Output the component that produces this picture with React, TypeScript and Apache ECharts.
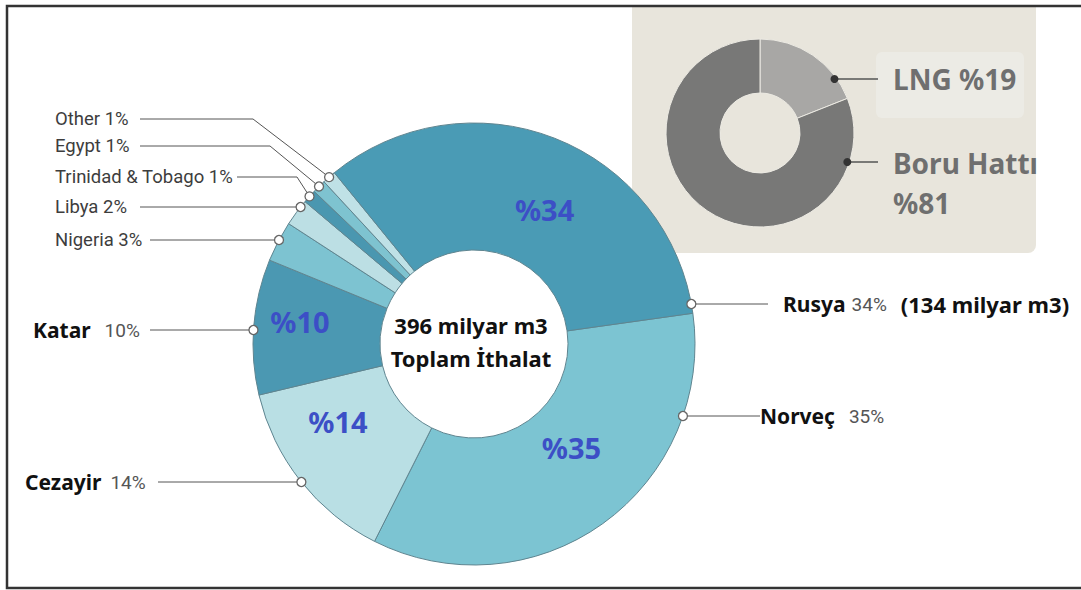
import React, { useEffect, useRef } from "react";
import * as echarts from "echarts";

// ---------- data ----------
const countries = ["Norveç", "Cezayir", "Katar", "Nigeria", "Libya", "Trinidad & Tobago", "Egypt", "Other", "Rusya"];
const shares = [35, 14, 10, 3, 2, 1, 1, 1, 34];
const insideLabels = ["%35", "%14", "%10", "", "", "", "", "", "%34"];
const rusyaVolume = "(134 milyar m3)";
const totalLines = ["396 milyar m3", "Toplam İthalat"];
const routeNames = ["LNG", "Boru Hattı"];
const routeShares = [19, 81];

// ---------- styles / layout ----------
const BOLD = "'Noto Sans', sans-serif";
const NARROW = "Roboto, 'Noto Sans', sans-serif";
const sliceColors = ["#7cc4d2", "#b9dfe4", "#4b98b2", "#7dc3d1", "#bcdfe4", "#4a97b0", "#7ec3d0", "#bfe1e6", "#4a9bb5"];
const CX = 474, CY = 344, R0 = 94, R1 = 221, START = 8;
const ICX = 760, ICY = 133, IR0 = 40, IR1 = 94, IANCH = 92;
const majorIdx = [0, 1, 2, 8];
const nameGap = [14, 9, 14, 0, 0, 0, 0, 0, 6];

// per data index: label y, text x, line end x, side, optional elbow x, use slice mid angle
const outLayout: any[] = [
  { y: 416, tx: 760, end: 760, side: 1 },
  { y: 482, tx: 25, end: 158, side: -1 },
  { y: 330, tx: 33, end: 150, side: -1 },
  { y: 240, tx: 55, end: 150, side: -1 },
  { y: 207, tx: 55, end: 140, side: -1 },
  { y: 177, tx: 55, end: 237, side: -1, elbow: 297, mid: true },
  { y: 146, tx: 55, end: 140, side: -1, elbow: 270, mid: true },
  { y: 119, tx: 55, end: 140, side: -1, elbow: 253, mid: true },
  { y: 304, tx: 783, end: 768, side: 1 },
];
const insideNudge = [[4, -27], [-10, -22], [-14, -10], [0, 0], [0, 0], [0, 0], [0, 0], [0, 0], [12, 15]];
const insetLayout = [
  { y: 79, ty: 79, tx: 893, end: 878 },
  { y: 162, ty: 183, tx: 893, end: 878 },
];

const total = shares.reduce((a, b) => a + b, 0);
function midAngle(i: number) {
  let cum = 0;
  for (let j = 0; j < i; j++) cum += shares[j];
  return -START + ((cum + shares[i] / 2) / total) * 360;
}
function anchor(i: number): number[] {
  const L = outLayout[i];
  if (L.mid) {
    const a = (midAngle(i) * Math.PI) / 180;
    return [CX + R1 * Math.cos(a), CY + R1 * Math.sin(a)];
  }
  const dy = L.y - CY;
  return [CX + L.side * Math.sqrt(R1 * R1 - dy * dy), L.y];
}
function insetAnchor(i: number): number[] {
  const dy = insetLayout[i].y - ICY;
  return [ICX + Math.sqrt(IANCH * IANCH - dy * dy), insetLayout[i].y];
}

export default function App() {
  const ref = useRef<HTMLDivElement>(null);
  useEffect(() => {
    document.body.style.margin = "0";
    const chart = echarts.init(ref.current!, undefined, { renderer: "svg" });
    const dots = countries.map((_, i) => {
      const [x, y] = anchor(i);
      return { type: "circle", z: 20, shape: { cx: x, cy: y, r: 4.5 }, style: { fill: "#fff", stroke: "#666", lineWidth: 1.3 } };
    });
    const insetDots = routeNames.map((_, i) => {
      const [x, y] = insetAnchor(i);
      return { type: "circle", z: 20, shape: { cx: x, cy: y, r: 4 }, style: { fill: "#333" } };
    });
    const rich: any = {
      b: { fontFamily: BOLD, fontWeight: "bold", fontSize: 21, color: "#111" },
      v: { fontFamily: BOLD, fontWeight: "bold", fontSize: 22, color: "#111" },
      gap: { width: 14 },
      p: { fontFamily: NARROW, fontSize: 19, color: "#555" },
      s: { fontFamily: NARROW, fontSize: 18.5, color: "#3d3d3d" },
    };
    nameGap.forEach((w, i) => { rich["g" + i] = { width: w }; });
    const option: any = {
      animation: false,
      backgroundColor: "#fff",
      graphic: [
        { type: "rect", z: 0, shape: { x: 632, y: 7, width: 404, height: 246, r: [0, 0, 8, 8] }, style: { fill: "#e8e5dc" } },
        { type: "rect", z: 0, shape: { x: 876, y: 52, width: 148, height: 66, r: 6 }, style: { fill: "#ecebe5" } },
        { type: "rect", z: 0, shape: { x: 7, y: 6, width: 1100, height: 582 }, style: { fill: "none", stroke: "#333", lineWidth: 2.5 } },
        ...dots,
        ...insetDots,
        {
          type: "text", z: 20, x: 471, y: 325,
          style: { text: totalLines[0], font: `bold 22px ${BOLD}`, fill: "#111", align: "center", verticalAlign: "middle" },
        },
        {
          type: "text", z: 20, x: 471, y: 358,
          style: { text: totalLines[1], font: `bold 22px ${BOLD}`, fill: "#111", align: "center", verticalAlign: "middle" },
        },
      ],
      series: [
        {
          type: "pie",
          name: "main",
          center: [CX, CY],
          radius: [R0, R1],
          startAngle: START,
          clockwise: true,
          silent: true,
          z: 2,
          itemStyle: { borderColor: "#5f8590", borderWidth: 1 },
          data: countries.map((n, i) => ({ name: n, value: shares[i], itemStyle: { color: sliceColors[i] } })),
          label: {
            show: true,
            position: "inside",
            formatter: (p: any) => insideLabels[p.dataIndex],
            fontFamily: BOLD,
            fontWeight: "bold",
            fontSize: 29,
            color: "#3c4fc6",
          },
          labelLine: { show: false },
          labelLayout: (p: any) => ({ dx: insideNudge[p.dataIndex][0], dy: insideNudge[p.dataIndex][1] }),
        },
        {
          type: "pie",
          name: "labels",
          center: [CX, CY],
          radius: [R0, R1],
          startAngle: START,
          clockwise: true,
          silent: true,
          z: 3,
          itemStyle: { color: "rgba(0,0,0,0)", borderWidth: 0 },
          data: countries.map((n, i) => ({ name: n, value: shares[i] })),
          label: {
            show: true,
            position: "outside",
            formatter: (p: any) => {
              const i = p.dataIndex;
              if (majorIdx.indexOf(i) >= 0) {
                let s = `{b|${countries[i]}}{g${i}|}{p|${shares[i]}%}`;
                if (i === 8) s += `{gap|}{v|${rusyaVolume}}`;
                return s;
              }
              return `{s|${countries[i]} ${shares[i]}%}`;
            },
            rich,
          },
          labelLine: { show: true, lineStyle: { color: "#555", width: 1 } },
          labelLayout: (p: any) => {
            const i = p.dataIndex;
            const L = outLayout[i];
            const a = anchor(i);
            const pts = L.elbow != null ? [a, [L.elbow, L.y], [L.end, L.y]] : [a, [L.end, L.y]];
            return { x: L.tx, y: L.y, align: "left", verticalAlign: "middle", labelLinePoints: pts };
          },
        },
        {
          type: "pie",
          name: "inset",
          center: [ICX, ICY],
          radius: [IR0, IR1],
          startAngle: 90,
          clockwise: true,
          silent: true,
          z: 2,
          itemStyle: { borderColor: "#eceae3", borderWidth: 1 },
          data: routeNames.map((n, i) => ({ name: n, value: routeShares[i], itemStyle: { color: i === 0 ? "#a8a7a5" : "#787877" } })),
          label: {
            show: true,
            position: "outside",
            formatter: (p: any) =>
              p.dataIndex === 0
                ? `{g|${routeNames[0]} %${routeShares[0]}}`
                : `{g|${routeNames[1]}}\n{g|%${routeShares[1]}}`,
            rich: { g: { fontFamily: BOLD, fontWeight: "bold", fontSize: 28, color: "#6f6f6f", lineHeight: 40 } },
          },
          labelLine: { show: true, lineStyle: { color: "#555", width: 1.5 } },
          labelLayout: (p: any) => {
            const i = p.dataIndex;
            const L = insetLayout[i];
            return {
              x: L.tx, y: L.ty, align: "left", verticalAlign: "middle",
              labelLinePoints: [insetAnchor(i), [L.end, L.y]],
            };
          },
        },
      ],
    };
    chart.setOption(option);
    return () => chart.dispose();
  }, []);
  return <div ref={ref} style={{ width: 1081, height: 590 }} />;
}
